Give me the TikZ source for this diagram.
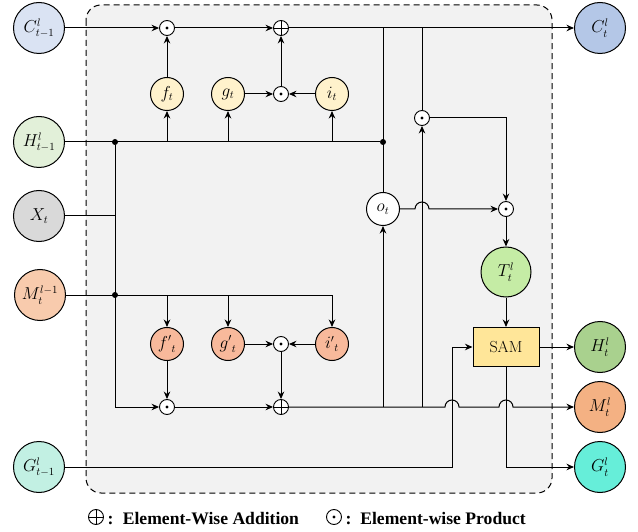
\documentclass[tikz,border=0pt]{standalone}
\usepackage{fontspec}
\newfontfamily\legendfont{Liberation Serif}
\usetikzlibrary{arrows.meta}
\definecolor{cinc}{HTML}{DAE3F3}
\definecolor{hinc}{HTML}{E2F0D9}
\definecolor{xinc}{HTML}{D9D9D9}
\definecolor{minc}{HTML}{F8CBAD}
\definecolor{ginc}{HTML}{C2F0E3}
\definecolor{coutc}{HTML}{B4C7E7}
\definecolor{houtc}{HTML}{A9D18E}
\definecolor{moutc}{HTML}{F4B183}
\definecolor{goutc}{HTML}{66EED9}
\definecolor{gatec}{HTML}{FFF2CC}
\definecolor{gatetwoc}{HTML}{F8B99B}
\definecolor{tc}{HTML}{C5ECA5}
\definecolor{samc}{HTML}{FFE699}
\definecolor{bgc}{HTML}{F2F2F2}
\begin{document}
\begin{tikzpicture}[x=1pt,y=1pt,
  line width=1pt,
  >={Stealth[length=7.5pt,width=6.5pt]},
  big/.style={circle,draw,line width=1pt,minimum size=51pt,inner sep=0pt,font=\fontsize{16}{18}\selectfont},
  gate/.style={circle,draw,line width=1pt,minimum size=33pt,inner sep=0pt,font=\fontsize{16}{18}\selectfont},
  opdot/.style={circle,draw,line width=0.9pt,fill=white,minimum size=15pt,inner sep=0pt,
    path picture={\fill[black] (path picture bounding box.center) circle (1.7pt);}},
  opplus/.style={circle,draw,line width=0.9pt,fill=white,minimum size=15pt,inner sep=0pt,
    path picture={\draw[black,line width=0.9pt] (path picture bounding box.north) -- (path picture bounding box.south)
      (path picture bounding box.west) -- (path picture bounding box.east);}},
  junc/.style={circle,fill=black,inner sep=0pt,minimum size=6pt},
  samstyle/.style={draw,fill=samc,line width=1pt,minimum width=66pt,minimum height=39pt,inner sep=0pt,font=\fontsize{16}{18}\selectfont},
  legendtext/.style={anchor=base west,inner sep=0pt,font=\legendfont\bfseries\fontsize{17.6}{20}\selectfont},
]
\path[use as bounding box,fill=white] (0,0) rectangle (638,-532);
% dashed box
\draw[dash pattern=on 6pt off 4pt,rounded corners=15pt,fill=bgc,line width=1pt] (86,-5) rectangle (552,-493);

% outer nodes
\node[big,fill=cinc] (Cin) at (39,-28) {$C^{l}_{t-1}$};
\node[big,fill=hinc] (Hin) at (39,-142) {$H^{l}_{t-1}$};
\node[big,fill=xinc] (Xin) at (39,-216) {$X_t$};
\node[big,fill=minc] (Min) at (40,-295) {$M^{l-1}_{t}$};
\node[big,fill=ginc] (Gin) at (39,-467) {$G^{l}_{t-1}$};
\node[big,fill=coutc] (Cout) at (600,-28) {$C^{l}_{t}$};
\node[big,fill=houtc] (Hout) at (600,-347) {$H^{l}_{t}$};
\node[big,fill=moutc] (Mout) at (600,-407) {$M^{l}_{t}$};
\node[big,fill=goutc] (Gout) at (600,-467) {$G^{l}_{t}$};

% upper gates
\node[opdot] (p1) at (167,-28) {};
\node[opplus] (s1) at (281,-28) {};
\node[gate,fill=gatec] (f) at (167,-94) {$f_t$};
\node[gate,fill=gatec] (g) at (228,-94) {$g_t$};
\node[opdot] (p2) at (281,-94) {};
\node[gate,fill=gatec] (i) at (332,-94) {$i_t$};
\node[junc] (jh1) at (115,-142) {};
\node[junc] (jh2) at (383,-142) {};
\node[gate,fill=white] (o) at (383,-209) {$o_t$};
\node[opdot] (p3) at (422,-118) {};
\node[opdot] (p4) at (506,-209) {};
\node[big,fill=tc,minimum size=50pt] (T) at (506,-272) {$T^{l}_{t}$};
\node[samstyle] (sam) at (506,-347) {SAM};

% lower gates
\node[junc] (jm) at (115,-295) {};
\node[gate,fill=gatetwoc] (f2) at (167,-344) {${f'}_t$};
\node[gate,fill=gatetwoc] (g2) at (228,-344) {${g'}_t$};
\node[opdot] (p5) at (281,-344) {};
\node[gate,fill=gatetwoc] (i2) at (332,-344) {${i'}_t$};
\node[opdot] (p6) at (167,-407) {};
\node[opplus] (s2) at (281,-407) {};

% coordinates
\coordinate (xj) at (115,-216);
\coordinate (lc) at (115,-407);
\coordinate (ctop1) at (383,-28);
\coordinate (ctop2) at (422,-28);
\coordinate (mb1) at (383,-407);
\coordinate (mb2) at (422,-407);
\coordinate (p3r) at (506,-118);
\coordinate (mj) at (332,-295);
\coordinate (gup) at (452,-467);
\coordinate (gmid) at (452,-347);
\coordinate (sb) at (506,-467);

% cell line
\draw[->] (Cin) -- (p1);
\draw[->] (p1) -- (s1);
\draw[->] (s1) -- (Cout);
\draw[->] (f) -- (p1);
\draw[->] (g) -- (p2);
\draw[->] (i) -- (p2);
\draw[->] (p2) -- (s1);

% H line
\draw (Hin) -- (jh2);
\draw[->] (f |- jh1) -- (f);
\draw[->] (g |- jh1) -- (g);
\draw[->] (i |- jh1) -- (i);
\draw (ctop1) -- (o);
\draw (jh1) -- (lc);
\draw[->] (lc) -- (p6);
\draw (Xin) -- (xj);

% M line
\draw (Min) -- (mj);
\draw[->] (mj) -- (i2);
\draw[->] (f2 |- jm) -- (f2);
\draw[->] (g2 |- jm) -- (g2);
\draw[->] (g2) -- (p5);
\draw[->] (i2) -- (p5);
\draw[->] (p5) -- (s2);
\draw[->] (f2) -- (p6);
\draw[->] (p6) -- (s2);
\draw[->] (s2) -- (445,-407) arc[start angle=180,end angle=0,radius=7] -- (499,-407)
  arc[start angle=180,end angle=0,radius=7] -- (Mout);
\draw[->] (mb1) -- (o);
\draw (ctop2) -- (p3);
\draw[->] (mb2) -- (p3);

% output path
\draw[->] (p3) -- (p3r) -- (p4);
\draw[->] (o) -- (415,-209) arc[start angle=180,end angle=0,radius=7] -- (p4);
\draw[->] (p4) -- (T);
\draw[->] (T) -- (sam);
\draw[->] (sam) -- (Hout);
\draw[->] (Gin) -- (gup) -- (gmid) -- (sam);
\draw[->] (sam) -- (sb) -- (Gout);

% legend
\node[opplus] (lg1) at (96,-517) {};
\node[legendtext] (lt1) at (107,-524) {:\hspace{9.5pt}Element-Wise Addition};
\node[opdot] (lg2) at (334,-517) {};
\node[legendtext] (lt2) at (345,-524) {:\hspace{9pt}Element-wise Product};
\end{tikzpicture}
\end{document}
